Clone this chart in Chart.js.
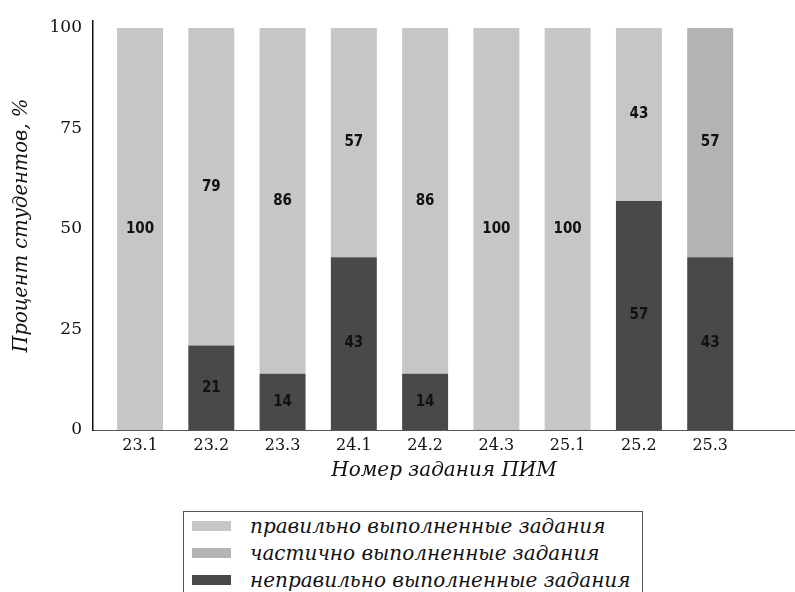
<!doctype html>
<html lang="ru">
  <head>
    <meta charset="utf-8" />
    <title>Результаты выполнения заданий ПИМ</title>
    <style>
      body {
        margin: 0;
        background: #ffffff;
        overflow: hidden;
      }

      .chart-wrapper {
        position: relative;
        width: 795px;
        height: 592px;
      }

      .legend-box {
        position: absolute;
        left: 183px;
        top: 511px;
        width: 460px;
        height: 100px;
        border: 1.5px solid #555555;
        box-sizing: border-box;
        padding-top: 0px;
        font-family: "DejaVu Serif", serif;
        font-style: italic;
        font-size: 20px;
        color: #111111;
      }

      .legend-row {
        display: flex;
        align-items: center;
        height: 27px;
      }

      .legend-swatch {
        width: 39px;
        height: 10px;
        margin-left: 8px;
        margin-right: 19px;
      }
    </style>
  </head>

  <body>
    <div class="chart-wrapper">
      <canvas id="taskChart" width="795" height="500"></canvas>
      <div class="legend-box" id="legend"></div>
    </div>

    <script src="https://cdn.jsdelivr.net/npm/chart.js@4/dist/chart.umd.min.js"></script>
    <script>
      // Data
      const taskLabels = ["23.1", "23.2", "23.3", "24.1", "24.2", "24.3", "25.1", "25.2", "25.3"];
      const wrongValues = [0, 21, 14, 43, 14, 0, 0, 57, 43];
      const partialValues = [0, 0, 0, 0, 0, 0, 0, 0, 57];
      const correctValues = [100, 79, 86, 57, 86, 100, 100, 43, 0];
      const yTickValues = [0, 25, 50, 75, 100];

      const seriesNames = [
        "неправильно выполненные задания",
        "частично выполненные задания",
        "правильно выполненные задания",
      ];
      const seriesColors = ["#494949", "#b3b3b3", "#c6c6c6"];

      // bars sit on a linear x axis so the axis can run past the last task
      function toPoints(values) {
        return values.map((v, i) => ({ x: i, y: v }));
      }

      // Draw the value in the middle of each segment
      const segmentLabels = {
        id: "segmentLabels",
        afterDatasetsDraw(chart) {
          const ctx = chart.ctx;
          ctx.save();
          ctx.font = 'bold 15px "DejaVu Sans Condensed", "DejaVu Sans", sans-serif';
          ctx.fillStyle = "#111111";
          ctx.textAlign = "center";
          ctx.textBaseline = "middle";
          chart.data.datasets.forEach((ds, di) => {
            const meta = chart.getDatasetMeta(di);
            meta.data.forEach((bar, i) => {
              const v = ds.data[i].y;
              if (!v) return;
              const p = bar.getCenterPoint();
              ctx.fillText(String(v), p.x, p.y);
            });
          });
          ctx.restore();
        },
      };

      const datasets = [wrongValues, partialValues, correctValues].map((values, k) => ({
        label: seriesNames[k],
        data: toPoints(values),
        backgroundColor: seriesColors[k],
        borderWidth: 0,
        barPercentage: 0.645,
        categoryPercentage: 1,
      }));

      const chart = new Chart(document.getElementById("taskChart"), {
        type: "bar",
        data: { datasets: datasets },
        options: {
          responsive: false,
          animation: false,
          layout: {
            padding: { top: 13, right: 0, bottom: 0, left: 0 },
          },
          plugins: {
            legend: { display: false },
            tooltip: { enabled: false },
          },
          scales: {
            x: {
              type: "linear",
              stacked: true,
              offset: false,
              min: -0.66,
              max: 9.19,
              afterFit: (scale) => {
                scale.height = 70;
              },
              afterBuildTicks: (scale) => {
                scale.ticks = taskLabels.map((_, i) => ({ value: i }));
              },
              grid: { display: false, drawTicks: false, offset: false },
              border: { display: true, color: "#555555", width: 1 },
              ticks: {
                padding: 6,
                color: "#111111",
                font: { family: "DejaVu Serif", size: 16 },
                callback: (value) => taskLabels[value],
              },
              title: {
                display: true,
                text: "Номер задания ПИМ",
                color: "#111111",
                font: { family: "DejaVu Serif", size: 20, style: "italic" },
                padding: { top: 0, bottom: 17 },
              },
            },
            y: {
              stacked: true,
              min: 0,
              max: 101.7,
              afterFit: (scale) => {
                scale.width = 93;
              },
              afterBuildTicks: (scale) => {
                scale.ticks = yTickValues.map((v) => ({ value: v }));
              },
              grid: { display: false, drawTicks: false },
              border: { display: true, color: "#111111", width: 1.5 },
              ticks: {
                padding: 11,
                color: "#111111",
                font: { family: "DejaVu Serif", size: 17 },
              },
              title: {
                display: true,
                text: "Процент студентов, %",
                color: "#111111",
                font: { family: "DejaVu Serif", size: 19.5, style: "italic" },
                padding: { top: 10, bottom: 0 },
              },
            },
          },
        },
        plugins: [segmentLabels],
      });

      // Legend box, top row = top of the stack
      const legendEl = document.getElementById("legend");
      chart.data.datasets
        .slice()
        .reverse()
        .forEach((ds) => {
          const row = document.createElement("div");
          row.className = "legend-row";
          const sw = document.createElement("span");
          sw.className = "legend-swatch";
          sw.style.backgroundColor = ds.backgroundColor;
          const txt = document.createElement("span");
          txt.textContent = ds.label;
          row.appendChild(sw);
          row.appendChild(txt);
          legendEl.appendChild(row);
        });
    </script>
  </body>
</html>
